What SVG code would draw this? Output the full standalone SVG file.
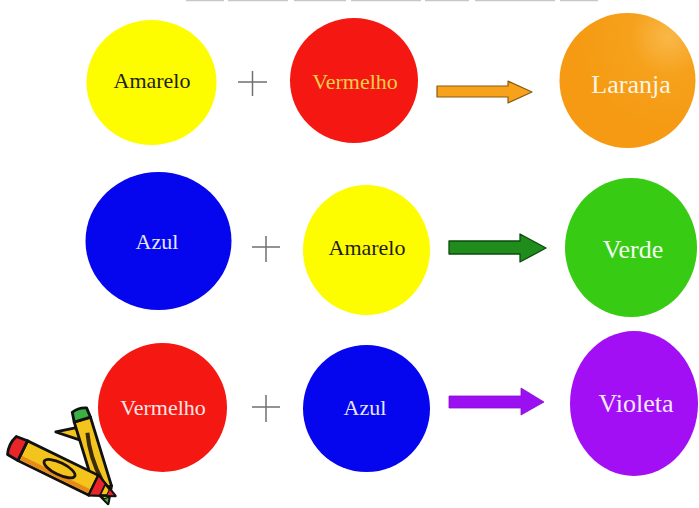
<svg xmlns="http://www.w3.org/2000/svg" width="699" height="508" viewBox="0 0 699 508">
  <style>
    .lbl { font-family: "Liberation Serif", "Times New Roman", serif; text-anchor: middle; }
    .src { font-size: 22px; }
    .res { font-size: 26px; }
    .plus { stroke: #707070; stroke-width: 1.5; fill: none; }
    .ink { stroke: #111; stroke-width: 2.8; stroke-linejoin: round; }
  </style>
  <defs>
    <radialGradient id="orangeShine" cx="0.8" cy="0.18" r="0.7">
      <stop offset="0" stop-color="#f9b848"/>
      <stop offset="0.4" stop-color="#f6a11c"/>
      <stop offset="1" stop-color="#f59a12"/>
    </radialGradient>
  </defs>

  <rect width="699" height="508" fill="#ffffff"/>

  <!-- bottom edge of a title cut off at the top -->
  <line x1="186" y1="0.6" x2="600" y2="0.6" stroke="#b0b0b0" stroke-width="1.2" stroke-dasharray="38 4 60 6 52 5 70 4 44 6 80 5" opacity="0.7"/>

  <!-- crayons, bottom left -->
  <g id="crayons">
    <!-- standing crayon -->
    <g transform="translate(80,412) rotate(73)">
      <path class="ink" d="M14,8 L27,8 L12,29 Z" fill="#f3c41b"/>
      <rect class="ink" x="8" y="-8.5" width="72" height="17" fill="#f3c41b"/>
      <path d="M22,-1 Q46,4 72,-1" stroke="#3a2a08" stroke-width="4" fill="none"/>
      <path class="ink" d="M-2,-7.5 Q-5,0 -2,7.5 L8,8.5 L8,-8.5 Z" fill="#3cb043"/>
      <path class="ink" d="M80,-8.5 L96,0 L80,8.5 Z" fill="#f3c41b"/>
      <path d="M90,-3.2 L96,0 L90,3.2 Z" fill="#3cb043" stroke="#111" stroke-width="1.2"/>
    </g>
    <!-- lying crayon -->
    <g transform="translate(11,445) rotate(26)">
      <rect class="ink" x="13" y="-11" width="79" height="22" fill="#f3c41b"/>
      <rect x="15" y="5" width="75" height="4.5" fill="#e88a1a"/>
      <ellipse cx="54" cy="0" rx="17" ry="6" fill="none" stroke="#1a1206" stroke-width="2.8"/>
      <path class="ink" d="M1,-10 Q-3,0 1,10 L13,11 L13,-11 Z" fill="#e8262a"/>
      <path class="ink" d="M92,-11 L116,0 L92,11 Z" fill="#f3c41b"/>
      <path d="M92,-11 L102,-6.5 L102,6.5 L92,11 Z" fill="#e8262a" stroke="#111" stroke-width="1.8"/>
      <path d="M108,-3.6 L116,0 L108,3.6 Z" fill="#e8262a" stroke="#111" stroke-width="1.2"/>
    </g>
  </g>

  <!-- row 1: Amarelo + Vermelho = Laranja -->
  <g id="amarelo1">
    <ellipse cx="151.5" cy="82.5" rx="65" ry="62.5" fill="#fdfd00"/>
    <text class="lbl src" x="152" y="88" fill="#1e1e10">Amarelo</text>
  </g>
  <g id="plus1"><path class="plus" d="M238,82 H267 M252.5,71 V96"/></g>
  <g id="vermelho1">
    <ellipse cx="354" cy="80.5" rx="64" ry="62.5" fill="#f51712"/>
    <text class="lbl src" x="355" y="89" fill="#f3cf4a">Vermelho</text>
  </g>
  <g id="laranja">
    <ellipse cx="627.5" cy="80.5" rx="68" ry="67.5" fill="url(#orangeShine)"/>
    <text class="lbl res" x="631" y="93" fill="#fff4e2">Laranja</text>
  </g>

  <!-- row 2: Azul + Amarelo = Verde -->
  <g id="azul1">
    <ellipse cx="158.5" cy="241" rx="73" ry="69" fill="#0505ee"/>
    <text class="lbl src" x="157" y="249" fill="#e4e4ff">Azul</text>
  </g>
  <g id="plus2"><path class="plus" d="M252,247 H280 M266,236 V262"/></g>
  <g id="amarelo2">
    <ellipse cx="366.5" cy="250" rx="63.5" ry="65" fill="#fdfd00"/>
    <text class="lbl src" x="367" y="255" fill="#1e1e10">Amarelo</text>
  </g>
  <g id="verde">
    <ellipse cx="631" cy="247.5" rx="66" ry="69.5" fill="#37cb14"/>
    <text class="lbl res" x="633" y="258" fill="#f2fff0">Verde</text>
  </g>

  <!-- row 3: Vermelho + Azul = Violeta -->
  <g id="vermelho2">
    <ellipse cx="162.5" cy="407.5" rx="64.5" ry="64.5" fill="#f51712"/>
    <text class="lbl src" x="163" y="415" fill="#ffe4e4">Vermelho</text>
  </g>
  <g id="plus3"><path class="plus" d="M252,407 H280 M266,395 V422"/></g>
  <g id="azul2">
    <ellipse cx="366.5" cy="408.5" rx="63.5" ry="63.5" fill="#0505ee"/>
    <text class="lbl src" x="365" y="415" fill="#e4e4ff">Azul</text>
  </g>
  <g id="violeta">
    <ellipse cx="634" cy="403.5" rx="64" ry="72.5" fill="#a20ff4"/>
    <text class="lbl res" x="636" y="412" fill="#f5e8ff">Violeta</text>
  </g>

  <!-- block arrows -->
  <g id="connectors">
    <path d="M437,86 H508 V81 L532,92 L508,103 V97 H437 Z" fill="#f7a21a" stroke="#8a5a14" stroke-width="1.2" stroke-linejoin="round"/>
    <path d="M449,241 H520 V234 L546,248 L520,262 V254 H449 Z" fill="#1f8c1c" stroke="#0e4a0e" stroke-width="1.3" stroke-linejoin="round"/>
    <path d="M449,396 H521 V388 L544,402 L521,415 V408 H449 Z" fill="#9b10f0" stroke="#8a0ad8" stroke-width="0.8" stroke-linejoin="round"/>
  </g>
</svg>
